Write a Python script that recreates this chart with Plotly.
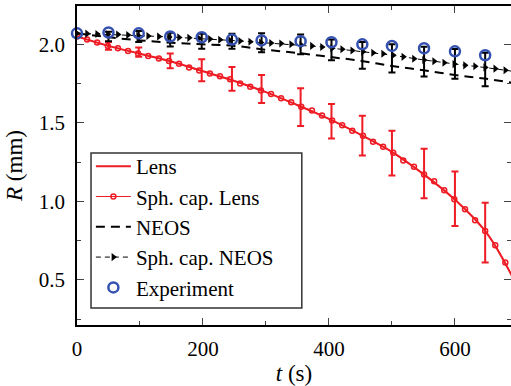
import plotly.graph_objects as go

# ---------------- data ----------------
# simulation output times (s)
t_sim = [0, 16, 32, 49, 65, 81, 97, 113, 130, 146, 162, 178, 194, 211, 227, 243,
         259, 275, 292, 308, 324, 340, 356, 373, 389, 405, 421, 437, 454, 470,
         486, 502, 518, 535, 551, 567, 583, 599, 616, 632, 648, 664, 680, 697]
R_sph_lens = [2.05, 2.03, 2.012, 1.99, 1.975, 1.958, 1.942, 1.925, 1.91, 1.893,
              1.876, 1.852, 1.833, 1.814, 1.796, 1.778, 1.751, 1.73, 1.705, 1.684,
              1.656, 1.631, 1.602, 1.578, 1.546, 1.515, 1.485, 1.45, 1.418, 1.38,
              1.348, 1.31, 1.26, 1.22, 1.17, 1.127, 1.07, 1.013, 0.95, 0.88,
              0.81, 0.72, 0.61, 0.47]
R_sph_neos = [2.07, 2.068, 2.066, 2.064, 2.062, 2.059, 2.056, 2.053, 2.05, 2.047,
              2.044, 2.041, 2.037, 2.033, 2.029, 2.025, 2.021, 2.016, 2.011, 2.008,
              2.005, 2.0, 1.995, 1.99, 1.983, 1.975, 1.968, 1.96, 1.953, 1.946,
              1.94, 1.93, 1.92, 1.908, 1.9, 1.892, 1.882, 1.874, 1.866, 1.86,
              1.853, 1.845, 1.835, 1.825]

t_model = [0, 50, 100, 150, 200, 250, 300, 350, 400, 450, 500, 550, 600, 650, 700]
R_lens = [2.05, 1.99, 1.94, 1.89, 1.828, 1.766, 1.695, 1.612, 1.525, 1.425,
          1.315, 1.173, 1.01, 0.80, 0.45]
R_neos = [2.07, 2.045, 2.025, 2.01, 2.0, 1.99, 1.965, 1.945, 1.92, 1.895,
          1.862, 1.835, 1.805, 1.78, 1.75]

# experiment times and values
t_exp = [0, 50, 98, 148, 198, 246, 293, 355, 404, 453, 500, 551, 600, 648]
R_exp = [2.07, 2.075, 2.07, 2.05, 2.045, 2.03, 2.025, 2.02, 2.013, 2.0,
         1.99, 1.975, 1.955, 1.93]

# uncertainty bars at experiment times (excluding t=0)
t_err = [50, 98, 148, 198, 246, 293, 355, 404, 453, 500, 551, 600, 648]
R_lens_err_c = [1.99, 1.95, 1.895, 1.835, 1.78, 1.715, 1.60, 1.51, 1.418, 1.307,
                1.177, 1.016, 0.80]
R_lens_err = [0.025, 0.03, 0.047, 0.07, 0.076, 0.089, 0.12, 0.11, 0.127, 0.142,
              0.158, 0.174, 0.19]
R_neos_err_c = [2.05, 2.05, 2.03, 2.02, 2.02, 2.01, 2.0, 1.965, 1.93, 1.91,
                1.89, 1.875, 1.84]
R_neos_err = [0.03, 0.035, 0.044, 0.048, 0.048, 0.06, 0.063, 0.066, 0.085, 0.09,
              0.095, 0.095, 0.107]

x_ticks = [0, 200, 400, 600]
x_minor = [100, 300, 500]
y_ticks = [0.5, 1.0, 1.5, 2.0]
y_minor = [0.25, 0.75, 1.25, 1.75]

RED = "#ee1c24"
BLUE = "#3451b2"
FONT = "Liberation Serif"

fig = go.Figure()

# error bars (no legend)
fig.add_trace(go.Scatter(
    x=t_err, y=R_lens_err_c, mode="markers", showlegend=False,
    marker=dict(size=1, color=RED, opacity=0),
    error_y=dict(type="data", array=R_lens_err, color=RED, thickness=2, width=3.5),
    hoverinfo="skip"))
fig.add_trace(go.Scatter(
    x=t_err, y=R_neos_err_c, mode="markers", showlegend=False,
    marker=dict(size=1, color="black", opacity=0),
    error_y=dict(type="data", array=R_neos_err, color="black", thickness=2, width=3.5),
    hoverinfo="skip"))

fig.add_trace(go.Scatter(
    x=t_model, y=R_lens, mode="lines", name="Lens",
    line=dict(color=RED, width=2, shape="spline")))
fig.add_trace(go.Scatter(
    x=t_sim, y=R_sph_lens, mode="lines+markers", name="Sph. cap. Lens",
    line=dict(color=RED, width=1),
    marker=dict(symbol="circle-open", size=5, color=RED, line=dict(width=1.5, color=RED))))
fig.add_trace(go.Scatter(
    x=t_model, y=R_neos, mode="lines", name="NEOS",
    line=dict(color="black", width=2, dash="9px,6px", shape="spline")))
fig.add_trace(go.Scatter(
    x=t_sim, y=R_sph_neos, mode="lines+markers", name="Sph. cap. NEOS",
    line=dict(color="black", width=1, dash="5px,4px"),
    marker=dict(symbol="triangle-right", size=7, color="black")))
fig.add_trace(go.Scatter(
    x=t_exp, y=R_exp, mode="markers", name="Experiment", cliponaxis=False,
    marker=dict(symbol="circle-open", size=10, color=BLUE, line=dict(width=2.5, color=BLUE))))

# invisible trace so the right-hand tick axis is drawn
fig.add_trace(go.Scatter(
    x=t_model, y=R_neos, yaxis="y2", mode="lines", showlegend=False,
    line=dict(width=0, color="rgba(0,0,0,0)"), hoverinfo="skip"))

axis_common = dict(
    showline=True, linecolor="black", linewidth=1.5,
    ticks="inside", tickcolor="#444", tickwidth=1, ticklen=7,
    showgrid=False, zeroline=False,
    tickfont=dict(family=FONT, size=21, color="black"),
)

# legend frame (paper coords)
fig.add_shape(type="rect", xref="paper", yref="paper",
              x0=0.0323, x1=0.518, y0=0.0533, y1=0.539,
              line=dict(color="#333", width=1.5), fillcolor="white", layer="above")

fig.update_layout(
    width=511, height=386,
    margin=dict(l=77, r=0, t=6, b=61),
    paper_bgcolor="white", plot_bgcolor="white",
    font=dict(family=FONT, size=21, color="black"),
    xaxis=dict(range=[0, 689], tickvals=x_ticks, mirror="ticks",
               minor=dict(tickvals=x_minor, ticks="inside", ticklen=4, tickcolor="#444"),
               title=dict(text="<i>t</i> (s)", font=dict(family=FONT, size=23), standoff=6),
               ticklabelstandoff=4,
               **axis_common),
    yaxis=dict(range=[0.212, 2.244], tickvals=y_ticks, tickformat=".1f", mirror=False,
               minor=dict(tickvals=y_minor, ticks="inside", ticklen=4, tickcolor="#444"),
               title=dict(text="<i>R</i> (mm)", font=dict(family=FONT, size=23), standoff=10),
               ticklabelstandoff=6,
               **axis_common),
    yaxis2=dict(overlaying="y", side="right", range=[0.212, 2.244], showline=False,
                ticks="inside", tickcolor="#444", tickwidth=1, ticklen=7,
                tickvals=y_ticks, showticklabels=False, showgrid=False, zeroline=False,
                minor=dict(tickvals=y_minor, ticks="inside", ticklen=4, tickcolor="#444")),
    legend=dict(x=0.032, y=0.561, xanchor="left", yanchor="top",
                bgcolor="rgba(0,0,0,0)", borderwidth=0,
                font=dict(family=FONT, size=21, color="black"),
                itemwidth=35, tracegroupgap=0),
    showlegend=True,
)

fig.write_html("out.html")
